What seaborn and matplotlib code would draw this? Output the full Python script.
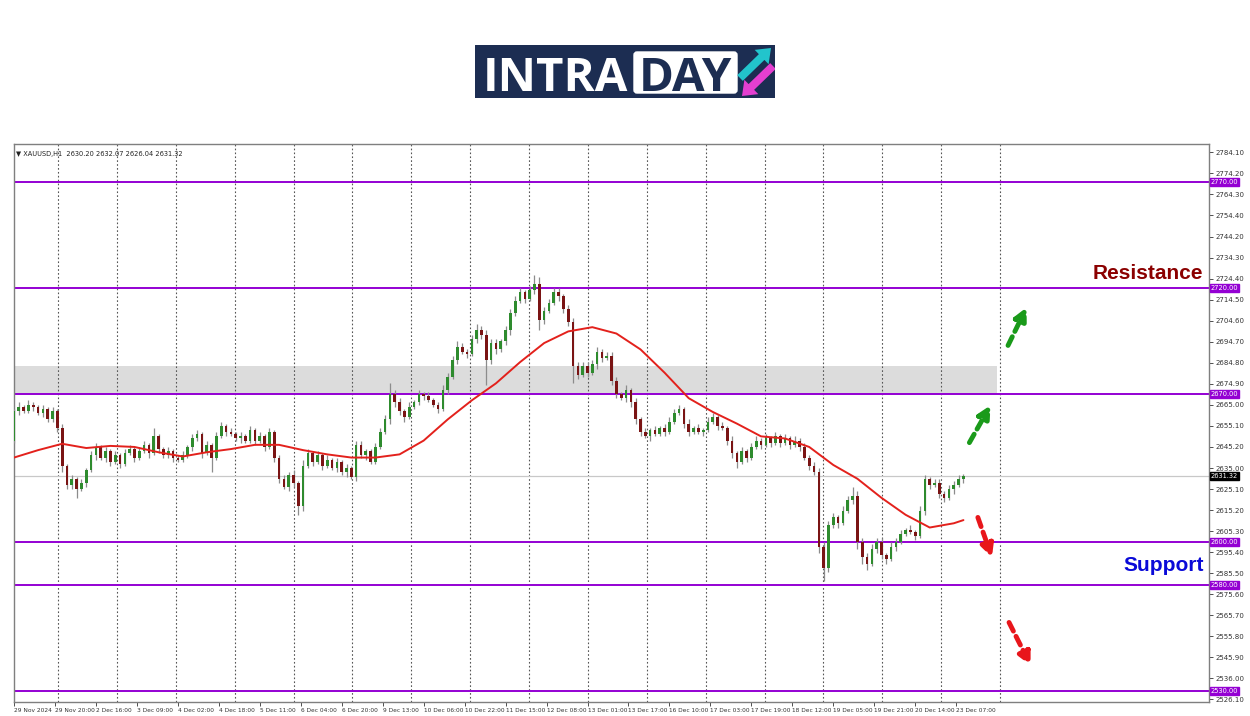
# XAUUSD H1 intraday chart with support / resistance levels

import numpy as np
import matplotlib.pyplot as plt
import seaborn as sns
from matplotlib.patches import Rectangle, FancyBboxPatch
from matplotlib.transforms import blended_transform_factory

# --- data (2-hour candles) ---
first_open = 2648
closes = [
    2662, 2664, 2662, 2665, 2664, 2661, 2663, 2658, 2662, 2654, 2636, 2627, 2630, 2625, 2628, 2634, 2641, 2645, 2640, 2643,
    2638, 2641, 2637, 2642, 2644, 2640, 2643, 2646, 2642, 2650, 2644, 2641, 2643, 2640, 2639, 2641, 2645, 2649, 2651, 2642,
    2646, 2640, 2650, 2655, 2652, 2651, 2649, 2650, 2648, 2653, 2648, 2650, 2645, 2652, 2640, 2630, 2626, 2632, 2628, 2617,
    2636, 2642, 2638, 2641, 2636, 2639, 2635, 2638, 2633, 2635, 2631, 2646, 2641, 2643, 2638, 2645, 2652, 2658, 2670, 2666,
    2662, 2659, 2664, 2666, 2670, 2669, 2667, 2665, 2663, 2672, 2678, 2686, 2692, 2690, 2689, 2696, 2700, 2698, 2686, 2694,
    2691, 2695, 2700, 2708, 2714, 2718, 2715, 2719, 2722, 2705, 2709, 2713, 2718, 2716, 2710, 2704, 2683, 2679, 2683, 2680,
    2684, 2690, 2687, 2688, 2676, 2670, 2668, 2672, 2666, 2658, 2652, 2650, 2653, 2651, 2654, 2652, 2657, 2661, 2663, 2656,
    2652, 2654, 2652, 2653, 2657, 2659, 2655, 2654, 2648, 2642, 2638, 2643, 2640, 2645, 2648, 2646, 2649, 2647, 2650, 2647,
    2649, 2646, 2648, 2645, 2640, 2636, 2633, 2598, 2588, 2608, 2612, 2609, 2615, 2620, 2622, 2600, 2593, 2590, 2597, 2600,
    2594, 2592, 2598, 2600, 2604, 2606, 2605, 2603, 2615, 2630, 2627, 2628, 2623, 2621, 2625, 2627, 2630, 2631.32,
]
wick_up = [
    1, 2, 1, 2, 1, 1, 2, 1, 2, 1, 2, 1, 2, 1, 2, 1, 2, 2, 1, 2,
    1, 2, 1, 2, 2, 1, 2, 2, 1, 4, 1, 1, 2, 1, 1, 2, 1, 2, 2, 1,
    2, 1, 2, 2, 1, 2, 1, 2, 1, 2, 1, 2, 1, 2, 1, 1, 2, 1, 2, 1,
    3, 2, 1, 2, 1, 2, 1, 2, 1, 2, 1, 2, 2, 1, 1, 2, 2, 2, 5, 2,
    2, 1, 2, 1, 2, 1, 2, 1, 1, 2, 2, 2, 3, 2, 1, 2, 3, 2, 2, 2,
    2, 1, 2, 2, 2, 2, 1, 2, 4, 3, 2, 2, 2, 2, 1, 2, 2, 2, 2, 2,
    2, 2, 1, 2, 2, 2, 1, 2, 1, 2, 1, 2, 1, 2, 1, 2, 2, 2, 2, 1,
    2, 1, 2, 1, 2, 2, 1, 2, 1, 2, 1, 2, 1, 2, 2, 1, 2, 1, 2, 1,
    2, 1, 2, 1, 2, 1, 2, 2, 2, 2, 2, 1, 2, 2, 4, 2, 2, 2, 2, 2,
    2, 1, 2, 2, 2, 1, 2, 1, 2, 2, 1, 2, 2, 1, 2, 2, 2, 1,
]
wick_dn = [
    1, 2, 1, 1, 2, 1, 2, 1, 1, 2, 3, 2, 2, 4, 1, 2, 1, 2, 1, 2,
    2, 1, 2, 1, 1, 2, 1, 1, 2, 1, 2, 1, 1, 2, 1, 1, 1, 2, 1, 2,
    1, 7, 1, 1, 2, 1, 1, 2, 1, 1, 2, 1, 2, 1, 2, 2, 1, 2, 2, 4,
    2, 1, 2, 1, 2, 1, 1, 2, 1, 2, 1, 2, 1, 2, 1, 1, 1, 1, 2, 2,
    2, 2, 1, 1, 1, 2, 1, 1, 2, 1, 2, 1, 2, 1, 2, 1, 2, 2, 12, 2,
    2, 1, 2, 2, 1, 1, 2, 1, 2, 5, 2, 1, 1, 2, 2, 2, 8, 2, 1, 2,
    1, 2, 2, 1, 2, 2, 1, 2, 2, 2, 2, 1, 2, 1, 1, 2, 1, 1, 1, 2,
    2, 1, 1, 2, 1, 1, 2, 1, 2, 2, 3, 1, 2, 1, 1, 2, 1, 2, 1, 2,
    1, 2, 1, 2, 1, 2, 1, 3, 6, 2, 1, 2, 1, 1, 2, 3, 3, 3, 1, 2,
    2, 2, 1, 2, 1, 1, 1, 2, 1, 2, 2, 1, 2, 2, 1, 2, 1, 2,
]
# moving average, read every 5th candle (plus the last one)
ma_values = [
    2640, 2643.5, 2646.5, 2644.5, 2645.5, 2645, 2642.5, 2640.5, 2642.5, 2644,
    2646, 2646, 2643.5, 2641.5, 2640, 2640, 2641.5, 2648, 2658, 2667,
    2675, 2685, 2694, 2699.5, 2701.5, 2698.5, 2691, 2680, 2668, 2661.5,
    2656, 2650, 2649, 2645, 2636.5, 2630, 2621, 2613, 2607, 2609, 2610.5,
]
levels = [2770, 2720, 2670, 2600, 2580, 2530]
zone = (2670, 2683)
last_price = 2631.32
y_ticks = [2784.10, 2774.20, 2764.30, 2754.40, 2744.20, 2734.30, 2724.40, 2714.50, 2704.60,
           2694.70, 2684.80, 2674.90, 2665.00, 2655.10, 2645.20, 2635.00, 2625.10, 2615.20,
           2605.30, 2595.40, 2585.50, 2575.60, 2565.70, 2555.80, 2545.90, 2536.00, 2526.10]
x_labels = ["29 Nov 2024", "29 Nov 20:00", "2 Dec 16:00", "3 Dec 09:00", "4 Dec 02:00", "4 Dec 18:00",
            "5 Dec 11:00", "6 Dec 04:00", "6 Dec 20:00", "9 Dec 13:00", "10 Dec 06:00", "10 Dec 22:00",
            "11 Dec 15:00", "12 Dec 08:00", "13 Dec 01:00", "13 Dec 17:00", "16 Dec 10:00", "17 Dec 03:00",
            "17 Dec 19:00", "18 Dec 12:00", "19 Dec 05:00", "19 Dec 21:00", "20 Dec 14:00", "23 Dec 07:00"]

sns.set_theme(style="white")
plt.rcParams['font.family'] = ['DejaVu Sans']

fig = plt.figure(figsize=(12.5, 7.16), dpi=100)
ax = fig.add_axes([13.5 / 1250, 1 - 702 / 716, (1209 - 13.5) / 1250, (702 - 144) / 716])

# candles: x axis in trading hours, one candle per 2 hours
hours_per_candle = 2
x = np.arange(len(closes)) * hours_per_candle
c = np.array(closes, dtype=float)
o = np.concatenate([[first_open], c[:-1]])
hi = np.maximum(o, c) + np.array(wick_up)
lo = np.minimum(o, c) - np.array(wick_dn)
bull = c >= o

# zone and levels behind the candles
ax.add_patch(Rectangle((-1, zone[0]), 409, zone[1] - zone[0], color="#dcdcdc", zorder=0, lw=0))
for g in 18.3 + 24.43 * np.arange(17):
    ax.axvline(g, color="#555555", lw=0.8, ls=(0, (1.5, 2)), zorder=1)
ax.axhline(last_price, color="#c8c8c8", lw=0.9, zorder=1)
for lv in levels:
    ax.axhline(lv, color="#9400d3", lw=1.4, zorder=2)

ax.vlines(x, lo, hi, color="#8c8c8c", lw=0.9, zorder=3)
ax.bar(x, np.maximum(np.abs(c - o), 0.4), bottom=np.minimum(o, c), width=1.1,
       color=np.where(bull, "#2e8b2e", "#7a1414"), zorder=4, lw=0)

ma_idx = list(range(0, len(closes), 5)) + [len(closes) - 1]
sns.lineplot(x=x[ma_idx], y=ma_values, color="#e3211c", lw=1.4, ax=ax, zorder=5)

ax.set_xlim(-0.2, 495.9)
ax.set_ylim(2524.7, 2787.9)

# axes styling (MT4 look)
for s in ax.spines.values():
    s.set_color("#7f7f7f")
    s.set_linewidth(1)
ax.yaxis.tick_right()
ax.set_yticks(y_ticks)
ax.set_yticklabels([f"{v:.2f}" for v in y_ticks])
ax.tick_params(axis="y", which="both", right=True, left=False, length=3, width=0.6,
               pad=1.5, labelsize=5, colors="#333333")
ax.set_xticks(np.arange(len(x_labels)) * 17)
ax.set_xticklabels(x_labels, ha="left")
ax.tick_params(axis="x", bottom=True, length=3, width=0.6, pad=1.5, labelsize=4.2, colors="#333333")
ax.set_xlabel("")
ax.set_ylabel("")

# price labels on the right axis
tr = blended_transform_factory(ax.transAxes, ax.transData)
for lv in levels:
    ax.text(1.0015, lv, f"{lv:.2f}", transform=tr, fontsize=4.8, color="white", va="center", ha="left",
            bbox=dict(boxstyle="square,pad=0.15", fc="#9400d3", ec="#9400d3"), clip_on=False)
ax.text(1.0015, last_price, f"{last_price:.2f}", transform=tr, fontsize=4.8, color="white", va="center",
        ha="left", bbox=dict(boxstyle="square,pad=0.15", fc="black", ec="black"), clip_on=False)

ax.text(0.002, 0.988, "\u25bc XAUUSD,H1  2630.20 2632.07 2626.04 2631.32", transform=ax.transAxes,
        fontsize=4.8, color="#222222", va="top", ha="left")

# annotations
ax.text(493.4, 2726.6, "Resistance", color="#8b0000", fontsize=15, fontweight="bold",
        family="Liberation Sans", ha="right", va="center")
ax.text(493.8, 2589.3, "Support", color="#0a0ad8", fontsize=15, fontweight="bold",
        family="Liberation Sans", ha="right", va="center")

arrows = [
    ((395.9, 2645.9), (405.8, 2665.8), "#1a9a1a"),
    ((412.0, 2691.7), (420.7, 2712.0), "#1a9a1a"),
    ((399.6, 2613.0), (406.2, 2591.7), "#e8161b"),
    ((412.4, 2563.4), (422.4, 2540.8), "#e8161b"),
]
for tail, tip, col in arrows:
    ax.annotate("", xy=tip, xytext=tail,
                arrowprops=dict(arrowstyle="-|>", mutation_scale=18, lw=3.5, ls=(0, (2, 1.2)), color=col))

# logo
lax = fig.add_axes([475 / 1250, 1 - 98 / 716, 300 / 1250, 53 / 716])
lax.set_xlim(0, 300)
lax.set_ylim(0, 53)
lax.axis("off")
lax.add_patch(Rectangle((0, 0), 300, 53, color="#1c2d52"))
lax.add_patch(FancyBboxPatch((159, 5), 103, 41, boxstyle="round,pad=0,rounding_size=3", color="white"))
lax.text(8, 7, "INTRA", color="white", fontsize=34, fontweight="bold", family="Open Sans",
         ha="left", va="baseline")
lax.text(210.5, 7, "DAY", color="#1c2d52", fontsize=34, fontweight="bold", family="Open Sans",
         ha="center", va="baseline")
lax.arrow(265, 20, 31, 30, width=8, head_width=20, head_length=13,
          length_includes_head=True, color="#22c4cc", lw=0)
lax.arrow(298, 32, -31, -30, width=8, head_width=20, head_length=13,
          length_includes_head=True, color="#e43fd0", lw=0)

fig.savefig("out.png", dpi=100)
